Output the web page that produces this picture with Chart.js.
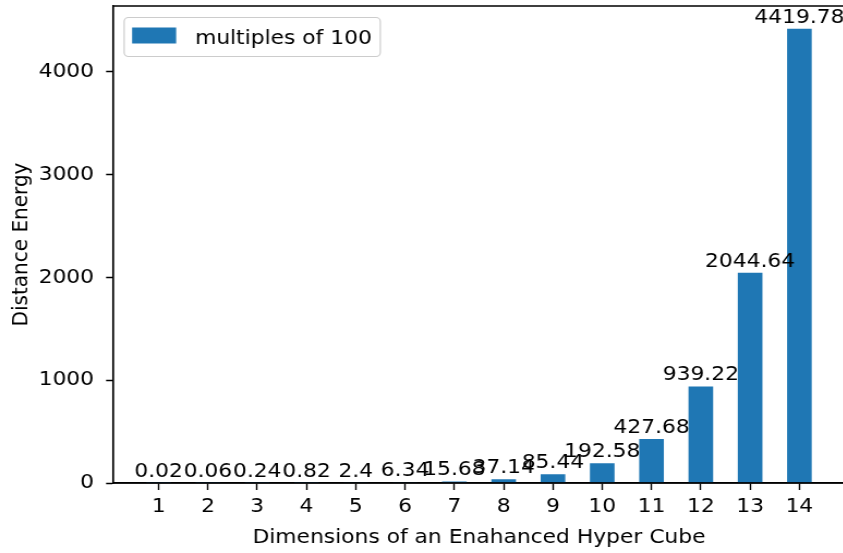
<!DOCTYPE html>
<html>
<head>
<meta charset="utf-8">
<script src="https://cdn.jsdelivr.net/npm/chart.js@4/dist/chart.umd.min.js"></script>
<style>
  html, body { margin: 0; padding: 0; background: #ffffff; overflow: hidden; }
  /* the figure is drawn slightly narrow and widened horizontally */
  #wrap { width: 777px; height: 553px; transform: scaleX(1.09); transform-origin: 0 0; }
</style>
</head>
<body>
<div id="wrap"><canvas id="chart" width="777" height="553"></canvas></div>
<script>
// Hypercube dimensions and their distance energies
const dimensions = [1, 2, 3, 4, 5, 6, 7, 8, 9, 10, 11, 12, 13, 14];
const energies = [0.02, 0.06, 0.24, 0.82, 2.4, 6.34, 15.68, 37.14, 85.44, 192.58, 427.68, 939.22, 2044.64, 4419.78];
const yTickValues = [0, 1000, 2000, 3000, 4000];
const seriesLabel = 'multiples of 100';
const xTitle = 'Dimensions of an Enahanced Hyper Cube';
const yTitle = 'Distance Energy';

const barColor = '#1f77b4';
const FONT = 'DejaVu Sans';
const FS = 20;
Chart.defaults.font.family = FONT;
Chart.defaults.color = '#000000';

// Value written above each bar
const barLabels = {
  id: 'barLabels',
  afterDatasetsDraw(chart) {
    const ctx = chart.ctx;
    const meta = chart.getDatasetMeta(0);
    ctx.save();
    ctx.font = FS + 'px "' + FONT + '"';
    ctx.fillStyle = '#000000';
    ctx.textAlign = 'center';
    ctx.textBaseline = 'alphabetic';
    meta.data.forEach((bar, i) => {
      ctx.fillText(String(energies[i]), bar.x, bar.y - 6);
    });
    ctx.restore();
  }
};

// Full frame around the plotting area
const frame = {
  id: 'frame',
  afterDraw(chart) {
    const {left, top, right, bottom} = chart.chartArea;
    const ctx = chart.ctx;
    ctx.save();
    ctx.strokeStyle = '#000000';
    ctx.lineWidth = 1.5;
    ctx.strokeRect(left, top, right - left, bottom - top);
    ctx.restore();
  }
};

// Legend box in the upper-left corner of the plot
const innerLegend = {
  id: 'innerLegend',
  afterDraw(chart) {
    const ctx = chart.ctx;
    const {left, top} = chart.chartArea;
    const x = left + 10.2, y = top + 11.5, w = 235, h = 39, r = 4;
    ctx.save();
    ctx.beginPath();
    ctx.moveTo(x + r, y);
    ctx.lineTo(x + w - r, y);
    ctx.arcTo(x + w, y, x + w, y + r, r);
    ctx.lineTo(x + w, y + h - r);
    ctx.arcTo(x + w, y + h, x + w - r, y + h, r);
    ctx.lineTo(x + r, y + h);
    ctx.arcTo(x, y + h, x, y + h - r, r);
    ctx.lineTo(x, y + r);
    ctx.arcTo(x, y, x + r, y, r);
    ctx.closePath();
    ctx.fillStyle = 'rgba(255,255,255,0.8)';
    ctx.fill();
    ctx.strokeStyle = '#cccccc';
    ctx.lineWidth = 1.2;
    ctx.stroke();
    ctx.fillStyle = chart.data.datasets[0].backgroundColor;
    ctx.fillRect(x + 7.3, y + 10, 40.4, 16);
    ctx.fillStyle = '#000000';
    ctx.font = FS + 'px "' + FONT + '"';
    ctx.textAlign = 'left';
    ctx.textBaseline = 'alphabetic';
    ctx.fillText(chart.data.datasets[0].label, x + 65, y + 26.5);
    ctx.restore();
  }
};

new Chart(document.getElementById('chart'), {
  type: 'bar',
  data: {
    datasets: [{
      label: seriesLabel,
      data: dimensions.map((d, i) => ({x: d, y: energies[i]})),
      backgroundColor: barColor,
      borderWidth: 0,
      barPercentage: 0.5,
      categoryPercentage: 1.0
    }]
  },
  options: {
    responsive: false,
    animation: false,
    devicePixelRatio: 1,
    layout: { padding: { top: 6, right: 1.8, left: 0, bottom: 0 } },
    plugins: {
      legend: { display: false },
      tooltip: { enabled: false }
    },
    scales: {
      x: {
        type: 'linear',
        offset: false,
        min: 0.075,
        max: 14.925,
        afterBuildTicks(scale) { scale.ticks = dimensions.map(v => ({value: v})); },
        afterFit(scale) {
          scale.height = 70;
          scale.paddingLeft = 0; scale.paddingRight = 0;
        },
        ticks: {
          autoSkip: false, maxRotation: 0, minRotation: 0,
          font: { size: FS }, color: '#000000', padding: 5,
          callback: v => String(v)
        },
        grid: {
          display: true, offset: false, drawOnChartArea: false, drawTicks: true,
          tickLength: 7, tickWidth: 1.4, tickColor: '#000000'
        },
        border: { display: true, color: '#000000', width: 1.5 },
        title: {
          display: true, text: xTitle, color: '#000000',
          font: { size: FS }, padding: { top: 0, bottom: 3 }
        }
      },
      y: {
        type: 'linear',
        min: 0,
        max: 4640.77,
        afterBuildTicks(scale) { scale.ticks = yTickValues.map(v => ({value: v})); },
        afterFit(scale) {
          scale.width = 103.7;
          scale.paddingTop = 0; scale.paddingBottom = 0;
        },
        ticks: {
          font: { size: FS }, color: '#000000', padding: 11,
          callback: v => String(v)
        },
        grid: {
          display: true, drawOnChartArea: false, drawTicks: true,
          tickLength: 6.4, tickWidth: 1.5, tickColor: '#000000'
        },
        border: { display: true, color: '#000000', width: 1.4 },
        title: {
          display: true, text: yTitle, color: '#000000',
          font: { size: FS }, padding: { top: 7.7, bottom: 0 }
        }
      }
    }
  },
  plugins: [barLabels, frame, innerLegend]
});
</script>
</body>
</html>
